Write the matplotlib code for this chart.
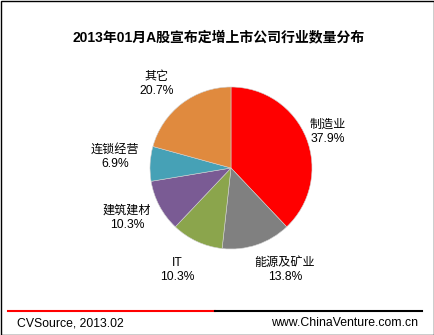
import numpy as np
import matplotlib
matplotlib.use("Agg")
import matplotlib.pyplot as plt
from matplotlib.patches import Rectangle
from matplotlib.lines import Line2D

plt.rcParams['font.family'] = ['Liberation Sans', 'Noto Sans CJK SC', 'DejaVu Sans']

title = "2013年01月A股宣布定增上市公司行业数量分布"
industries = ["制造业", "能源及矿业", "IT", "建筑建材", "连锁经营", "其它"]
shares = [37.9, 13.8, 10.3, 10.3, 6.9, 20.7]
colors = ["#FF0000", "#808080", "#8BA54C", "#7A5B94", "#46A1B6", "#E08A3E"]
source = "CVSource, 2013.02"
site = "www.ChinaVenture.com.cn"


def main():
	W, H = 435, 335
	fig = plt.figure(figsize=(W / 100, H / 100), dpi=100)

	# pie centre and radius in pixels
	cx, cy, r = 231, 168, 81
	ax = fig.add_axes([(cx - r) / W, (H - cy - r) / H, 2 * r / W, 2 * r / H])

	wedges, _ = ax.pie(shares, colors=colors, startangle=90, counterclock=False, radius=1,
		wedgeprops=dict(linewidth=0.4, edgecolor="#d0d0d0"))

	# label radius / angle nudge per slice so the labels sit clear of the pie
	lab_r = [1.28, 1.42, 1.42, 1.42, 1.44, 1.39]
	lab_da = [-1.4, 9.3, -2.9, -2.5, -2.3, 4.2]
	for w, name, v, lr, da in zip(wedges, industries, shares, lab_r, lab_da):
		ang = np.deg2rad((w.theta1 + w.theta2) / 2 + da)
		ax.text(lr * np.cos(ang), lr * np.sin(ang), "%s\n%.1f%%" % (name, v),
			ha="center", va="center", fontsize=8.7, linespacing=1.25)
	ax.set_xlim(-1, 1)
	ax.set_ylim(-1, 1)
	ax.set_aspect("equal")
	ax.axis("off")

	fig.text(0.5 + 1 / W, 1 - 37 / H, title, ha="center", va="center", fontsize=10, fontweight="bold")

	# footer rule, red then black
	fig.add_artist(Line2D([8 / W, 215 / W], [1 - 311 / H] * 2, color="#FF0000", lw=1.5))
	fig.add_artist(Line2D([215 / W, 422 / W], [1 - 311 / H] * 2, color="#000000", lw=1.5))
	fig.text(17 / W, 1 - 323 / H, source, ha="left", va="center", fontsize=8.8)
	fig.text(418 / W, 1 - 323 / H, site, ha="right", va="center", fontsize=8.8)

	fig.add_artist(Rectangle((0.5 / W, 0.5 / H), 1 - 1.5 / W, 1 - 1.5 / H, transform=fig.transFigure,
		fill=False, edgecolor="black", lw=1))

	fig.savefig("out.png", dpi=100)


if __name__ == "__main__":
	main()
